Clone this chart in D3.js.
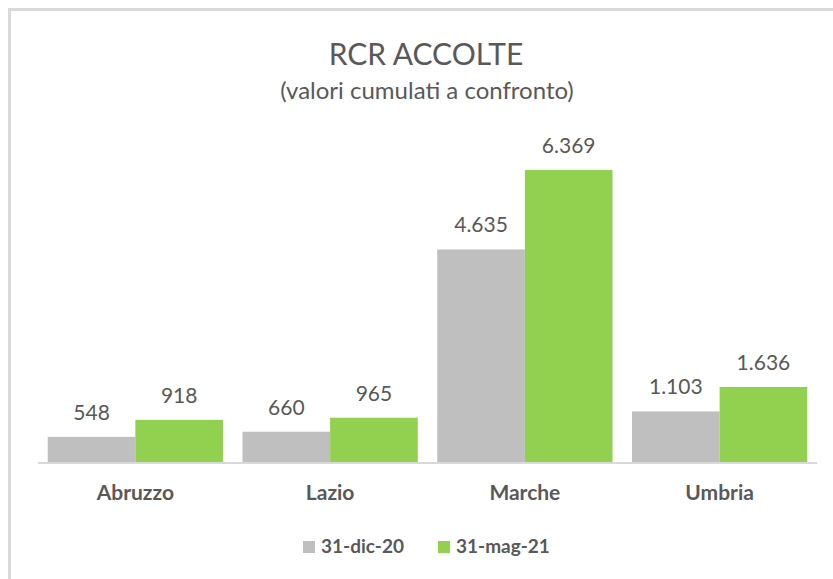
<!DOCTYPE html>
<html>
<head>
<meta charset="utf-8">
<script src="https://cdnjs.cloudflare.com/ajax/libs/d3/7.8.5/d3.min.js"></script>
<style>
    html, body { margin: 0; padding: 0; background: #fff; }
    svg { display: block; }
</style>
</head>
<body>
<div id="chart"></div>
<script>
    "use strict";

    var categories = ["Abruzzo", "Lazio", "Marche", "Umbria"];
    var seriesNames = ["31-dic-20", "31-mag-21"];
    var dic20 = [548, 660, 4635, 1103];
    var mag21 = [918, 965, 6369, 1636];
    var seriesColors = ["#bfbfbf", "#92d050"];

    var width = 833, height = 579;
    var fontFamily = "Lato, 'Open Sans', sans-serif";
    var textColor = "#595959";

    var svg = d3.select("#chart").append("svg")
        .attr("width", width)
        .attr("height", height);

    svg.append("rect")
        .attr("width", width)
        .attr("height", height)
        .attr("fill", "#fff");

    // chart frame (cut off at right/bottom)
    svg.append("path")
        .attr("d", "M9.5," + height + "V9.5H" + width)
        .attr("fill", "none")
        .attr("stroke", "#d9d9d9")
        .attr("stroke-width", 3);

    var plot = { left: 38, right: 817, top: 141, bottom: 462 };

    var x0 = d3.scaleBand()
        .domain(categories)
        .range([plot.left, plot.right])
        .paddingInner(0.1)
        .paddingOuter(0.05);

    var x1 = d3.scaleBand()
        .domain(seriesNames)
        .range([0, x0.bandwidth()]);

    var y = d3.scaleLinear()
        .domain([0, 7000])
        .range([plot.bottom, plot.top]);

    var rows = categories.map(function (c, i) {
        return { cat: c, values: [dic20[i], mag21[i]] };
    });

    var fmt = function (v) {
        return d3.format(",")(v).replace(/,/g, ".");
    };

    var group = svg.selectAll(".grp")
        .data(rows)
        .enter()
        .append("g")
        .attr("class", "grp")
        .attr("transform", function (d) { return "translate(" + x0(d.cat) + ",0)"; });

    var bar = group.selectAll(".bar")
        .data(function (d) {
            return d.values.map(function (v, j) { return { s: seriesNames[j], v: v, j: j }; });
        })
        .enter();

    bar.append("rect")
        .attr("x", function (d) { return x1(d.s); })
        .attr("y", function (d) { return y(d.v); })
        .attr("width", x1.bandwidth())
        .attr("height", function (d) { return y(0) - y(d.v); })
        .attr("fill", function (d) { return seriesColors[d.j]; });

    bar.append("text")
        .attr("x", function (d) { return x1(d.s) + x1.bandwidth() / 2; })
        .attr("y", function (d) { return y(d.v) - 17; })
        .attr("text-anchor", "middle")
        .attr("font-family", fontFamily)
        .attr("font-size", 21)
        .attr("fill", textColor)
        .text(function (d) { return fmt(d.v); });

    // x axis
    svg.append("line")
        .attr("x1", plot.left)
        .attr("x2", plot.right)
        .attr("y1", plot.bottom + 1)
        .attr("y2", plot.bottom + 1)
        .attr("stroke", "#d9d9d9")
        .attr("stroke-width", 2);

    svg.selectAll(".cat")
        .data(categories)
        .enter()
        .append("text")
        .attr("class", "cat")
        .attr("x", function (d) { return x0(d) + x0.bandwidth() / 2; })
        .attr("y", 500)
        .attr("text-anchor", "middle")
        .attr("font-family", fontFamily)
        .attr("font-weight", "bold")
        .attr("font-size", 21)
        .attr("fill", textColor)
        .text(function (d) { return d; });

    // title
    svg.append("text")
        .attr("x", 426)
        .attr("y", 65)
        .attr("text-anchor", "middle")
        .attr("font-family", fontFamily)
        .attr("font-size", 30)
        .attr("fill", textColor)
        .text("RCR ACCOLTE");

    svg.append("text")
        .attr("x", 427)
        .attr("y", 99)
        .attr("text-anchor", "middle")
        .attr("font-family", fontFamily)
        .attr("font-size", 24)
        .attr("fill", textColor)
        .text("(valori cumulati a confronto)");

    // legend
    var legendX = [303, 438];
    var legend = svg.selectAll(".legend")
        .data(seriesNames)
        .enter()
        .append("g")
        .attr("class", "legend")
        .attr("transform", function (d, i) { return "translate(" + legendX[i] + ",541)"; });

    legend.append("rect")
        .attr("width", 12)
        .attr("height", 12)
        .attr("fill", function (d, i) { return seriesColors[i]; });

    legend.append("text")
        .attr("x", 18)
        .attr("y", 12)
        .attr("font-family", fontFamily)
        .attr("font-weight", "bold")
        .attr("font-size", 19)
        .attr("fill", textColor)
        .text(function (d) { return d; });
</script>
</body>
</html>
